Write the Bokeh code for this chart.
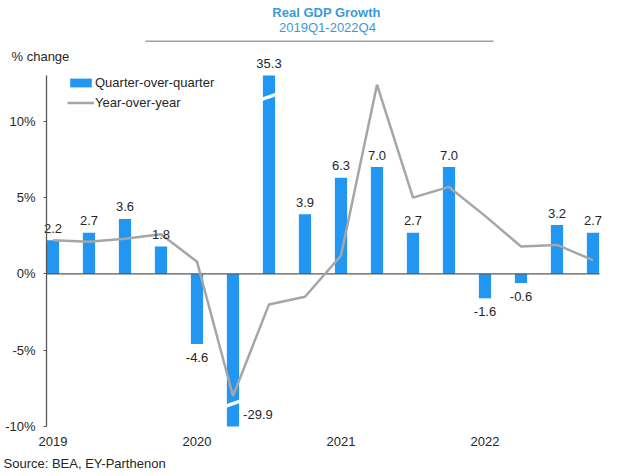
from bokeh.plotting import figure
from bokeh.models import (ColumnDataSource, Range1d, FixedTicker, Label, LinearAxis,
                          Legend, LegendItem, BoxAnnotation)
from bokeh.embed import file_html
from bokeh.resources import INLINE
import numpy as np

# ---- data ----
quarters = ["2019Q1", "2019Q2", "2019Q3", "2019Q4",
            "2020Q1", "2020Q2", "2020Q3", "2020Q4",
            "2021Q1", "2021Q2", "2021Q3", "2021Q4",
            "2022Q1", "2022Q2", "2022Q3", "2022Q4"]
qoq = [2.2, 2.7, 3.6, 1.8, -4.6, -29.9, 35.3, 3.9,
       6.3, 7.0, 2.7, 7.0, -1.6, -0.6, 3.2, 2.7]
yoy = [2.2, 2.1, 2.3, 2.6, 0.8, -8.0, -2.0, -1.5,
       1.2, 12.4, 5.0, 5.7, 3.8, 1.8, 1.9, 0.9]
year_ticks = [0, 4, 8, 12]
year_labels = ["2019", "2020", "2021", "2022"]
y_ticks = [-10, -5, 0, 5, 10]
y_tick_labels = ["-10%", "-5%", "0%", "5%", "10%"]
y_min, y_max = -10, 13

FONT = "Liberation Sans"
TXT = "#262626"
BLUE = "#2196F3"
GRAY = "#A6A6A6"
TITLE_BLUE = "#3A9AD9"

x = np.arange(len(quarters))
q = np.array(qoq)
q_draw = np.clip(q, y_min, y_max)

W, H = 630, 476
# layout geometry (screen pixels)
AX_X = 46          # y-axis line
Y_TOP_PX, Y_BOT_PX = 75, 426   # screen rows of y_max / y_min
X0_PX, STEP = 52.5, 36.0       # first bar centre, bar spacing

ppu = (Y_BOT_PX - Y_TOP_PX) / (y_max - y_min)
y_start = y_min - (H - Y_BOT_PX) / ppu
y_end = y_max + Y_TOP_PX / ppu
x_start = -X0_PX / STEP
x_end = (W - X0_PX) / STEP
axis_x = (AX_X - X0_PX) / STEP

p = figure(width=W, height=H, output_backend="svg", toolbar_location=None,
           x_range=Range1d(x_start, x_end), y_range=Range1d(y_start, y_end),
           x_axis_type=None, y_axis_type=None,
           min_border=0, min_border_left=0, min_border_right=0,
           min_border_top=0, min_border_bottom=0)
p.outline_line_color = None
p.background_fill_color = "white"
p.border_fill_color = "white"

# y axis at fixed location
ya = LinearAxis(fixed_location=axis_x)
ya.ticker = FixedTicker(ticks=y_ticks)
ya.major_label_overrides = {t: l for t, l in zip(y_ticks, y_tick_labels)}
ya.bounds = (y_min, y_max)
ya.axis_line_color = "#595959"
ya.axis_line_width = 1.3
ya.major_tick_line_color = "#595959"
ya.major_tick_out = 3
ya.major_tick_in = 0
ya.minor_tick_line_color = None
ya.major_label_text_font = FONT
ya.major_label_text_font_size = "13px"
ya.major_label_text_color = TXT
ya.major_label_standoff = 8
p.add_layout(ya, "left")

# x axis (year labels only)
xa = LinearAxis(fixed_location=y_min)
xa.ticker = FixedTicker(ticks=year_ticks)
xa.major_label_overrides = {t: l for t, l in zip(year_ticks, year_labels)}
xa.axis_line_color = None
xa.major_tick_line_color = None
xa.minor_tick_line_color = None
xa.major_tick_out = 0
xa.major_tick_in = 0
xa.major_label_text_font = FONT
xa.major_label_text_font_size = "13px"
xa.major_label_text_color = TXT
xa.major_label_standoff = 10
p.add_layout(xa, "below")

src = ColumnDataSource(dict(x=x, top=q_draw, q=q, yoy=yoy))
bars = p.vbar(x="x", top="top", bottom=0, width=0.34, source=src,
              fill_color=BLUE, line_color=None)

# zero line from the y axis to just past the last bar
p.segment(x0=[axis_x], y0=[0], x1=[x[-1] + 0.18], y1=[0],
          line_color="#595959", line_width=1.3)

line = p.line(x="x", y="yoy", source=src, line_color=GRAY, line_width=2.5)

# axis-break slashes on clipped bars
over = q > y_max
under = q < y_min
bx = np.concatenate([x[over], x[under]])
by = np.concatenate([np.full(over.sum(), y_max - 1.4), np.full(under.sum(), y_min + 1.5)])
p.segment(x0=bx - 0.24, y0=by - 0.2, x1=bx + 0.24, y1=by + 0.2,
          line_color="white", line_width=3.5)

# data labels
lab_txt = [f"{v:.1f}" for v in qoq]
pos = (q >= 0)
normal_neg = (q < 0) & ~under
p.text(x=x[pos], y=q_draw[pos], text=[lab_txt[i] for i in np.where(pos)[0]],
       text_align="center", text_baseline="middle", y_offset=-12,
       text_font={"value": FONT}, text_font_size="13px", text_color=TXT)
p.text(x=x[normal_neg], y=q_draw[normal_neg], text=[lab_txt[i] for i in np.where(normal_neg)[0]],
       text_align="center", text_baseline="middle", y_offset=13,
       text_font={"value": FONT}, text_font_size="13px", text_color=TXT)
p.text(x=x[under] + 0.17, y=q_draw[under], text=[lab_txt[i] for i in np.where(under)[0]],
       text_align="left", text_baseline="middle", x_offset=4, y_offset=-12,
       text_font={"value": FONT}, text_font_size="13px", text_color=TXT)

# legend
legend = Legend(items=[LegendItem(label="Quarter-over-quarter", renderers=[bars]),
                       LegendItem(label="Year-over-year", renderers=[line])],
                location=(67, H - 111), orientation="vertical",
                glyph_width=27, glyph_height=11, label_standoff=1,
                label_height=17, spacing=3, padding=0, margin=0,
                border_line_color=None, background_fill_alpha=0,
                label_text_font=FONT, label_text_font_size="13px",
                label_text_color=TXT)
p.add_layout(legend, "center")

# texts (screen units, frame == whole canvas, origin bottom-left)
def add_label(text, sx, sy, **kw):
    p.add_layout(Label(x=sx, y=H - sy, x_units="screen", y_units="screen",
                       text=text, text_font=FONT, **kw))

add_label("Real GDP Growth", 326, 12, text_font_size="13px", text_font_style="bold",
          text_color=TITLE_BLUE, text_align="center", text_baseline="middle")
add_label("2019Q1-2022Q4", 327, 26.5, text_font_size="13px",
          text_color=TITLE_BLUE, text_align="center", text_baseline="middle")
add_label("% change", 11, 56, text_font_size="13px", text_color=TXT,
          text_align="left", text_baseline="middle")
add_label("Source: BEA, EY-Parthenon", 3, 463, text_font_size="13px", text_color=TXT,
          text_align="left", text_baseline="middle")

p.add_layout(BoxAnnotation(left=145, right=493, top=H - 40, bottom=H - 41.5,
                           left_units="screen", right_units="screen",
                           top_units="screen", bottom_units="screen",
                           fill_color="#A0A0A0", fill_alpha=1, line_color=None))

open("out.html", "w").write(file_html(p, INLINE))
